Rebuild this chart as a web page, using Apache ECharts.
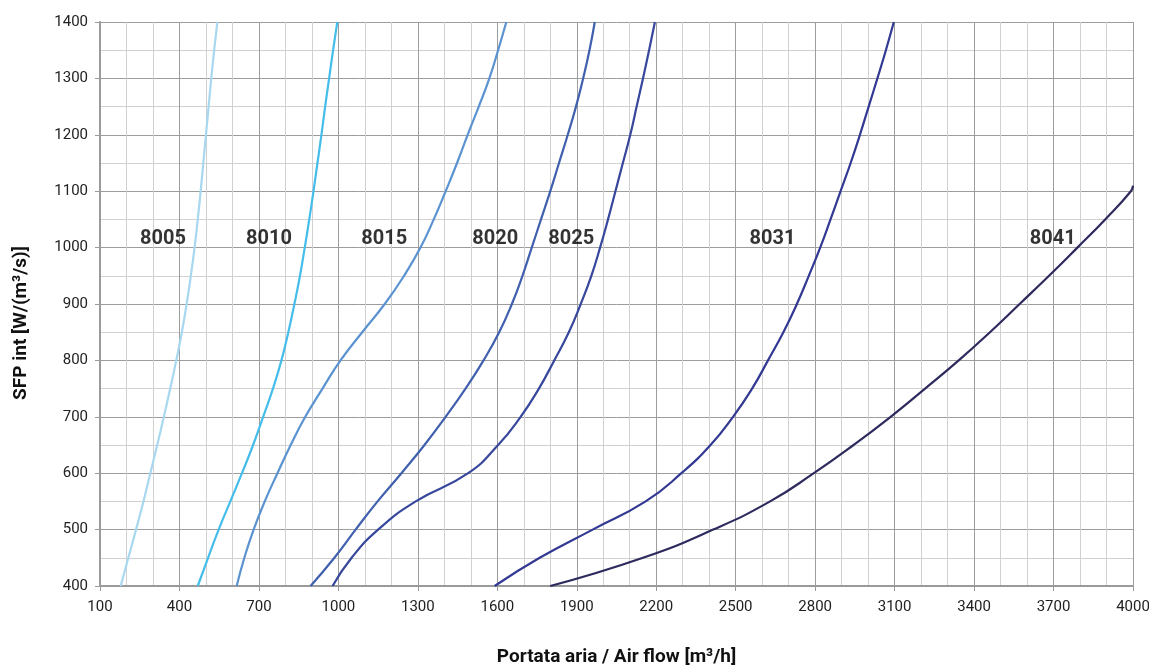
<!DOCTYPE html>
<html>
<head>
<meta charset="utf-8">
<script src="https://cdn.jsdelivr.net/npm/echarts@6/dist/echarts.min.js"></script>
<style>html,body{margin:0;padding:0;background:#fff}#c{width:1149px;height:666px}</style>
</head>
<body>
<div id="c"></div>
<script>
// SFP levels (y) shared by most curves
const sfpLevels = [400,450,500,550,600,650,700,750,800,850,900,950,1000,1050,1100,1150,1200,1250,1300,1350,1400];
// Air flow (x) read at each SFP level
const flow8005 = [178,207,236,264,290,316,341,365,388,409,427,443,457,469,480,490,500,510,520,531,543];
const flow8010 = [469,508,548,592,636,678,716,753,785,811,834,855,873,890,906,921,936,950,965,980,996];
const flow8015 = [616,645,680,722,770,820,875,940,1008,1090,1175,1248,1310,1360,1405,1448,1488,1530,1570,1603,1634];
const flow8020 = [895,985,1065,1148,1238,1325,1405,1480,1548,1607,1655,1695,1730,1765,1800,1833,1866,1897,1924,1948,1968];
const flow8025 = [978,1050,1150,1292,1490,1603,1688,1757,1815,1870,1915,1955,1988,2018,2046,2074,2102,2126,2150,2173,2195];
const flow8031 = [1590,1760,1960,2160,2295,2405,2490,2562,2622,2680,2731,2776,2819,2858,2896,2934,2969,3002,3035,3067,3097];
const sfpLevels8041 = [400,450,500,550,600,650,700,750,800,850,900,950,1000,1050,1100,1110];
const flow8041 = [1800,2150,2415,2630,2795,2945,3085,3215,3342,3460,3572,3683,3790,3895,3992,4000];

const seriesNames = ['8005','8010','8015','8020','8025','8031','8041'];
const seriesColors = ['#a7d8ef','#45bdea','#5b93d1','#4060ae','#37479c','#323993','#2d2a5d'];
const labelFlow = [338,738,1173,1592,1879,2639,3697];
const labelSfp = [1016,1016,1016,1016,1016,1016,1016];

const flows = [flow8005,flow8010,flow8015,flow8020,flow8025,flow8031,flow8041];
const levels = [sfpLevels,sfpLevels,sfpLevels,sfpLevels,sfpLevels,sfpLevels,sfpLevels8041];

const xTicks = {min:100, max:4000, interval:300};
const yTicks = {min:400, max:1400, interval:100};

const fontNarrow = "'Liberation Sans Narrow','Arial Narrow','Roboto','Liberation Sans',sans-serif";

const series = flows.map((f,i)=>({
  name: seriesNames[i],
  type: 'line',
  smooth: 0.5,
  showSymbol: false,
  symbol: 'none',
  clip: true,
  lineStyle: {width: 2.2, color: seriesColors[i]},
  itemStyle: {color: seriesColors[i]},
  data: f.map((x,k)=>[x, levels[i][k]]),
  z: 3
}));
series.push({
  type: 'scatter',
  symbolSize: 0,
  silent: true,
  data: labelFlow.map((x,i)=>({value:[x,labelSfp[i]], name: seriesNames[i]})),
  label: {
    show: true, position: 'inside',
    formatter: p=>p.name,
    fontFamily: fontNarrow, fontWeight: 'bold', fontSize: 20, color: '#000'
  },
  z: 5
});

const chart = echarts.init(document.getElementById('c'), null, {renderer:'canvas'});
chart.setOption({
  animation: false,
  backgroundColor: '#fff',
  grid: {left: 100, right: 16, top: 22, bottom: 80, containLabel: false, outerBoundsMode: 'none'},
  xAxis: {
    type: 'value', min: xTicks.min, max: xTicks.max, interval: xTicks.interval,
    name: 'Portata aria / Air flow [m³/h]', nameLocation: 'middle', nameGap: 62,
    nameTextStyle: {fontFamily: fontNarrow, fontWeight: 'bold', fontSize: 19, color: '#111'},
    axisLine: {show: true, lineStyle: {color: '#9a9a9a', width: 2}},
    axisTick: {show: true, length: 5, lineStyle: {color: '#9a9a9a', width: 1}},
    axisLabel: {margin: 14, fontFamily: fontNarrow, fontSize: 15, color: '#222', formatter: v=>String(v), showMaxLabel: true, showMinLabel: true},
    splitLine: {show: true, lineStyle: {color: '#9d9d9d', width: 1}},
    minorTick: {show: false, splitNumber: 3},
    minorSplitLine: {show: true, lineStyle: {color: '#d0d0d0', width: 1}}
  },
  yAxis: {
    type: 'value', min: yTicks.min, max: yTicks.max, interval: yTicks.interval,
    name: 'SFP int [W/(m³/s)]', nameLocation: 'middle', nameGap: 69, nameRotate: 90,
    nameTextStyle: {fontFamily: fontNarrow, fontWeight: 'bold', fontSize: 19, color: '#111', padding: [0, 38, 0, 0]},
    axisLine: {show: true, lineStyle: {color: '#9a9a9a', width: 2}},
    axisTick: {show: true, length: 5, lineStyle: {color: '#9a9a9a', width: 1}},
    axisLabel: {margin: 12, fontFamily: fontNarrow, fontSize: 15, color: '#222', formatter: v=>String(v)},
    splitLine: {show: true, lineStyle: {color: '#9d9d9d', width: 1}},
    minorTick: {show: false, splitNumber: 2},
    minorSplitLine: {show: true, lineStyle: {color: '#d0d0d0', width: 1}}
  },
  series: series
});
</script>
</body>
</html>
